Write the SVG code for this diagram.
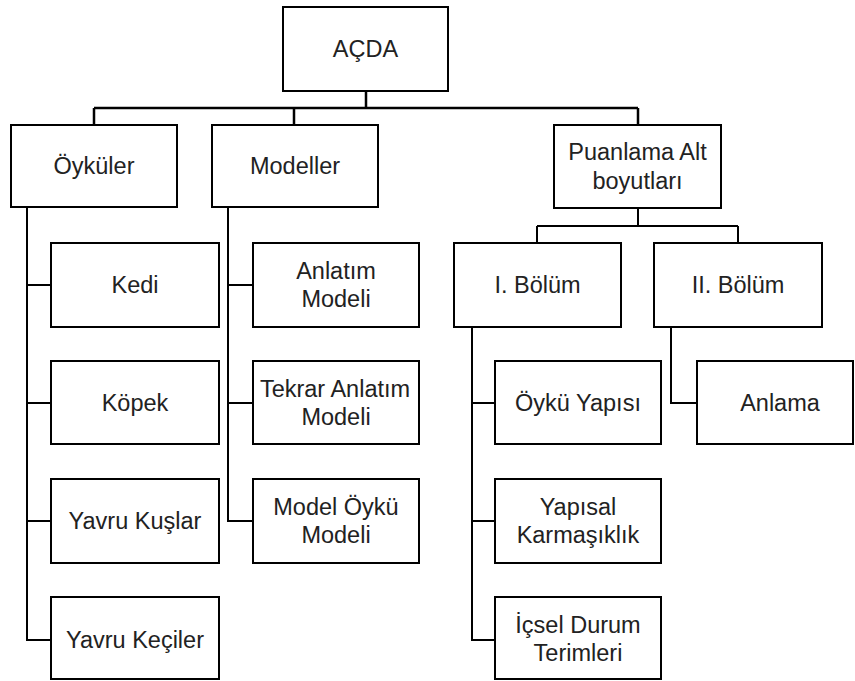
<svg xmlns="http://www.w3.org/2000/svg" width="855" height="681" viewBox="0 0 855 681">
<style>
rect{fill:#fff;stroke:#000;stroke-width:2}
.c path{fill:none;stroke:#000;stroke-width:2}
text{font-family:"Liberation Sans",Arial,sans-serif;font-size:23.5px;fill:#222;text-anchor:middle}
</style>
<rect x="0" y="0" width="855" height="681" style="stroke:none"/>
<g class="c" id="connectors">
<path d="M366 91V108M94 108H638M94 108V125M294 108V125M638 108V125" style="stroke-width:2.5"/>
<path d="M27 207V640H51M27 285H51M27 403H51M27 521H51"/>
<path d="M228 207V521H253M228 285H253M228 403H253"/>
<path d="M638 208V226M537 226H738M537 226V243M738 226V243"/>
<path d="M472 327V640H495M472 403H495M472 521H495"/>
<path d="M671 327V403H697"/>
</g>
<g id="n-acda"><rect x="283" y="7" width="165" height="84"/><text x="365.5" y="57">AÇDA</text></g>
<g id="n-oykuler"><rect x="11" y="125" width="166" height="82"/><text x="94" y="174">Öyküler</text></g>
<g id="n-modeller"><rect x="212" y="125" width="166" height="82"/><text x="295" y="174">Modeller</text></g>
<g id="n-puanlama"><rect x="554" y="125" width="167" height="83"/><text x="637.5" y="160">Puanlama Alt</text><text x="637.5" y="189">boyutları</text></g>
<g id="n-kedi"><rect x="51" y="243" width="168" height="84"/><text x="135" y="293">Kedi</text></g>
<g id="n-kopek"><rect x="51" y="361" width="168" height="83"/><text x="135" y="411">Köpek</text></g>
<g id="n-kuslar"><rect x="51" y="479" width="168" height="84"/><text x="135" y="529">Yavru Kuşlar</text></g>
<g id="n-keciler"><rect x="51" y="597" width="168" height="82"/><text x="135" y="648">Yavru Keçiler</text></g>
<g id="n-anlatim"><rect x="253" y="243" width="166" height="84"/><text x="336" y="279">Anlatım</text><text x="336" y="307">Modeli</text></g>
<g id="n-tekrar"><rect x="253" y="361" width="166" height="83"/><text x="335" y="397">Tekrar Anlatım</text><text x="336" y="425">Modeli</text></g>
<g id="n-modeloyku"><rect x="253" y="479" width="166" height="84"/><text x="336" y="515">Model Öykü</text><text x="336" y="543">Modeli</text></g>
<g id="n-bolum1"><rect x="454" y="243" width="167" height="84"/><text x="537.5" y="293">I. Bölüm</text></g>
<g id="n-bolum2"><rect x="654" y="243" width="168" height="84"/><text x="738" y="293">II. Bölüm</text></g>
<g id="n-oykuyapisi"><rect x="495" y="361" width="166" height="83"/><text x="578" y="411">Öykü Yapısı</text></g>
<g id="n-anlama"><rect x="697" y="361" width="156" height="83"/><text x="780" y="411">Anlama</text></g>
<g id="n-yapisal"><rect x="495" y="479" width="166" height="84"/><text x="578" y="515">Yapısal</text><text x="578" y="543">Karmaşıklık</text></g>
<g id="n-icsel"><rect x="495" y="597" width="166" height="82"/><text x="578" y="633">İçsel Durum</text><text x="578" y="661">Terimleri</text></g>
</svg>
